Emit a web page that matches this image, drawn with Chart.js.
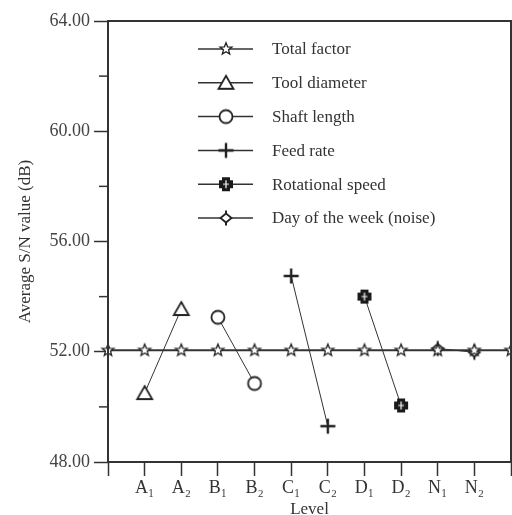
<!DOCTYPE html>
<html>
<head>
<meta charset="utf-8">
<script src="https://cdn.jsdelivr.net/npm/chart.js@4.4.1/dist/chart.umd.min.js"></script>
<style>
  html, body { margin: 0; padding: 0; background: #fff; }
  canvas { display: block; }
</style>
</head>
<body>
<canvas id="snChart" width="512" height="515"></canvas>
<script>
// levels on the x axis (blank ends sit on the frame)
const levels = ['', 'A\u2081', 'A\u2082', 'B\u2081', 'B\u2082', 'C\u2081', 'C\u2082', 'D\u2081', 'D\u2082', 'N\u2081', 'N\u2082', ''];

// average S/N values
const totalFactor = [52.05, 52.05, 52.05, 52.05, 52.05, 52.05, 52.05, 52.05, 52.05, 52.05, 52.05, 52.05];
const toolDiameter = [null, 50.5, 53.55, null, null, null, null, null, null, null, null, null];
const shaftLength = [null, null, null, 53.25, 50.85, null, null, null, null, null, null, null];
const feedRate = [null, null, null, null, null, 54.75, 49.3, null, null, null, null, null];
const rotationalSpeed = [null, null, null, null, null, null, null, 54.0, 50.05, null, null, null];
const dayOfWeek = [null, null, null, null, null, null, null, null, null, 52.12, 51.98, null];

const seriesNames = ['Total factor', 'Tool diameter', 'Shaft length', 'Feed rate', 'Rotational speed', 'Day of the week (noise)'];
const yTickLabels = ['48.00', '52.00', '56.00', '60.00', '64.00'];

const FONT = '"Liberation Serif", "Times New Roman", serif';
const INK = '#333';

// little canvases used as point markers
function makeMarker(draw) {
    const c = document.createElement('canvas');
    c.width = 20;
    c.height = 20;
    const g = c.getContext('2d');
    g.translate(10, 10);
    g.strokeStyle = '#222';
    g.fillStyle = '#fff';
    draw(g);
    return c;
}

const starMarker = makeMarker(g => {
    g.beginPath();
    for (let i = 0; i < 10; i++) {
        const r = i % 2 === 0 ? 6.3 : 2.7;
        const a = -Math.PI / 2 + i * Math.PI / 5;
        g.lineTo(r * Math.cos(a), r * Math.sin(a));
    }
    g.closePath();
    g.fill();
    g.lineWidth = 1.3;
    g.stroke();
});

const triangleMarker = makeMarker(g => {
    g.beginPath();
    g.moveTo(0, -7);
    g.lineTo(7.5, 6);
    g.lineTo(-7.5, 6);
    g.closePath();
    g.fill();
    g.lineWidth = 1.8;
    g.stroke();
});

const circleMarker = makeMarker(g => {
    g.beginPath();
    g.arc(0, 0, 6.5, 0, Math.PI * 2);
    g.fill();
    g.lineWidth = 1.8;
    g.stroke();
});

const crossMarker = makeMarker(g => {
    g.lineWidth = 2.4;
    g.beginPath();
    g.moveTo(-7.5, 0); g.lineTo(7.5, 0);
    g.moveTo(0, -7.5); g.lineTo(0, 7.5);
    g.stroke();
});

const boldPlusMarker = makeMarker(g => {
    g.fillStyle = '#1a1a1a';
    g.fillRect(-7, -4, 14, 8);
    g.fillRect(-4, -7, 8, 14);
    g.strokeStyle = '#fff';
    g.lineWidth = 1.2;
    g.beginPath();
    g.moveTo(-3, 0); g.lineTo(3, 0);
    g.moveTo(0, -4); g.lineTo(0, 4);
    g.stroke();
});

const noiseMarker = makeMarker(g => {
    g.lineWidth = 2;
    g.beginPath();
    g.moveTo(0, -7.5); g.lineTo(0, 7.5);
    g.stroke();
    g.beginPath();
    g.moveTo(0, -4.5); g.lineTo(5.5, 0); g.lineTo(0, 4.5); g.lineTo(-5.5, 0);
    g.closePath();
    g.fill();
    g.lineWidth = 1.8;
    g.stroke();
});

const markers = [starMarker, triangleMarker, circleMarker, crossMarker, boldPlusMarker, noiseMarker];
const seriesData = [totalFactor, toolDiameter, shaftLength, feedRate, rotationalSpeed, dayOfWeek];

// frame, minor ticks and the in-plot legend
const framePlugin = {
    id: 'frame',
    afterDraw(chart) {
        const { ctx, chartArea: a, scales } = chart;
        ctx.save();
        ctx.strokeStyle = INK;
        ctx.lineWidth = 2;
        ctx.strokeRect(a.left, a.top, a.right - a.left, a.bottom - a.top);

        // minor y ticks
        ctx.lineWidth = 1.5;
        [50, 54, 58, 62].forEach(v => {
            const y = scales.y.getPixelForValue(v);
            ctx.beginPath();
            ctx.moveTo(a.left - 9, y);
            ctx.lineTo(a.left, y);
            ctx.stroke();
        });

        // legend
        ctx.font = '17px ' + FONT;
        ctx.textBaseline = 'middle';
        ctx.fillStyle = INK;
        seriesNames.forEach((name, i) => {
            const y = 49 + i * 33.8;
            ctx.lineWidth = 1.5;
            ctx.beginPath();
            ctx.moveTo(198, y);
            ctx.lineTo(253, y);
            ctx.stroke();
            ctx.drawImage(markers[i], 226 - 10, y - 10);
            ctx.fillText(name, 272, y + 1);
        });
        ctx.restore();
    }
};

const ctx = document.getElementById('snChart').getContext('2d');

new Chart(ctx, {
    type: 'line',
    data: {
        labels: levels,
        datasets: seriesNames.map((name, i) => ({
            label: name,
            data: seriesData[i],
            borderColor: INK,
            borderWidth: i === 0 ? 2 : 1,
            pointStyle: markers[i],
            pointRadius: 7,
            pointHoverRadius: 7,
            fill: false,
            tension: 0,
            clip: false,
            spanGaps: false
        }))
    },
    options: {
        responsive: false,
        animation: false,
        events: [],
        layout: {
            autoPadding: false,
            padding: { left: 4, top: 21, right: 1, bottom: 0 }
        },
        plugins: {
            legend: { display: false },
            tooltip: { enabled: false }
        },
        scales: {
            x: {
                type: 'category',
                offset: false,
                afterFit: scale => {
                    scale.height = 53;
                    scale.paddingLeft = 0;
                    scale.paddingRight = 0;
                },
                border: { display: false },
                grid: {
                    drawOnChartArea: false,
                    drawTicks: true,
                    tickLength: 14,
                    tickColor: INK,
                    tickWidth: 1.5
                },
                ticks: {
                    autoSkip: false,
                    maxRotation: 0,
                    padding: 1,
                    color: INK,
                    font: { family: FONT, size: 18 }
                },
                title: {
                    display: true,
                    text: 'Level',
                    color: INK,
                    padding: { top: 0, bottom: -3 },
                    font: { family: FONT, size: 17, lineHeight: 1 }
                }
            },
            y: {
                min: 48,
                max: 64,
                afterFit: scale => { scale.width = 104; },
                border: { display: false },
                grid: {
                    drawOnChartArea: false,
                    drawTicks: true,
                    tickLength: 14,
                    tickWidth: 1.5,
                    tickColor: c => (c.tick && c.tick.value % 4 === 0) ? INK : 'rgba(0,0,0,0)'
                },
                ticks: {
                    stepSize: 2,
                    padding: 4,
                    color: '#444',
                    font: { family: FONT, size: 18 },
                    callback: v => yTickLabels.includes(v.toFixed(2)) ? v.toFixed(2) : ''
                },
                title: {
                    display: true,
                    text: 'Average S/N value (dB)',
                    color: INK,
                    padding: { top: 11, bottom: 0 },
                    font: { family: FONT, size: 17 }
                }
            }
        }
    },
    plugins: [framePlugin]
});
</script>
</body>
</html>
